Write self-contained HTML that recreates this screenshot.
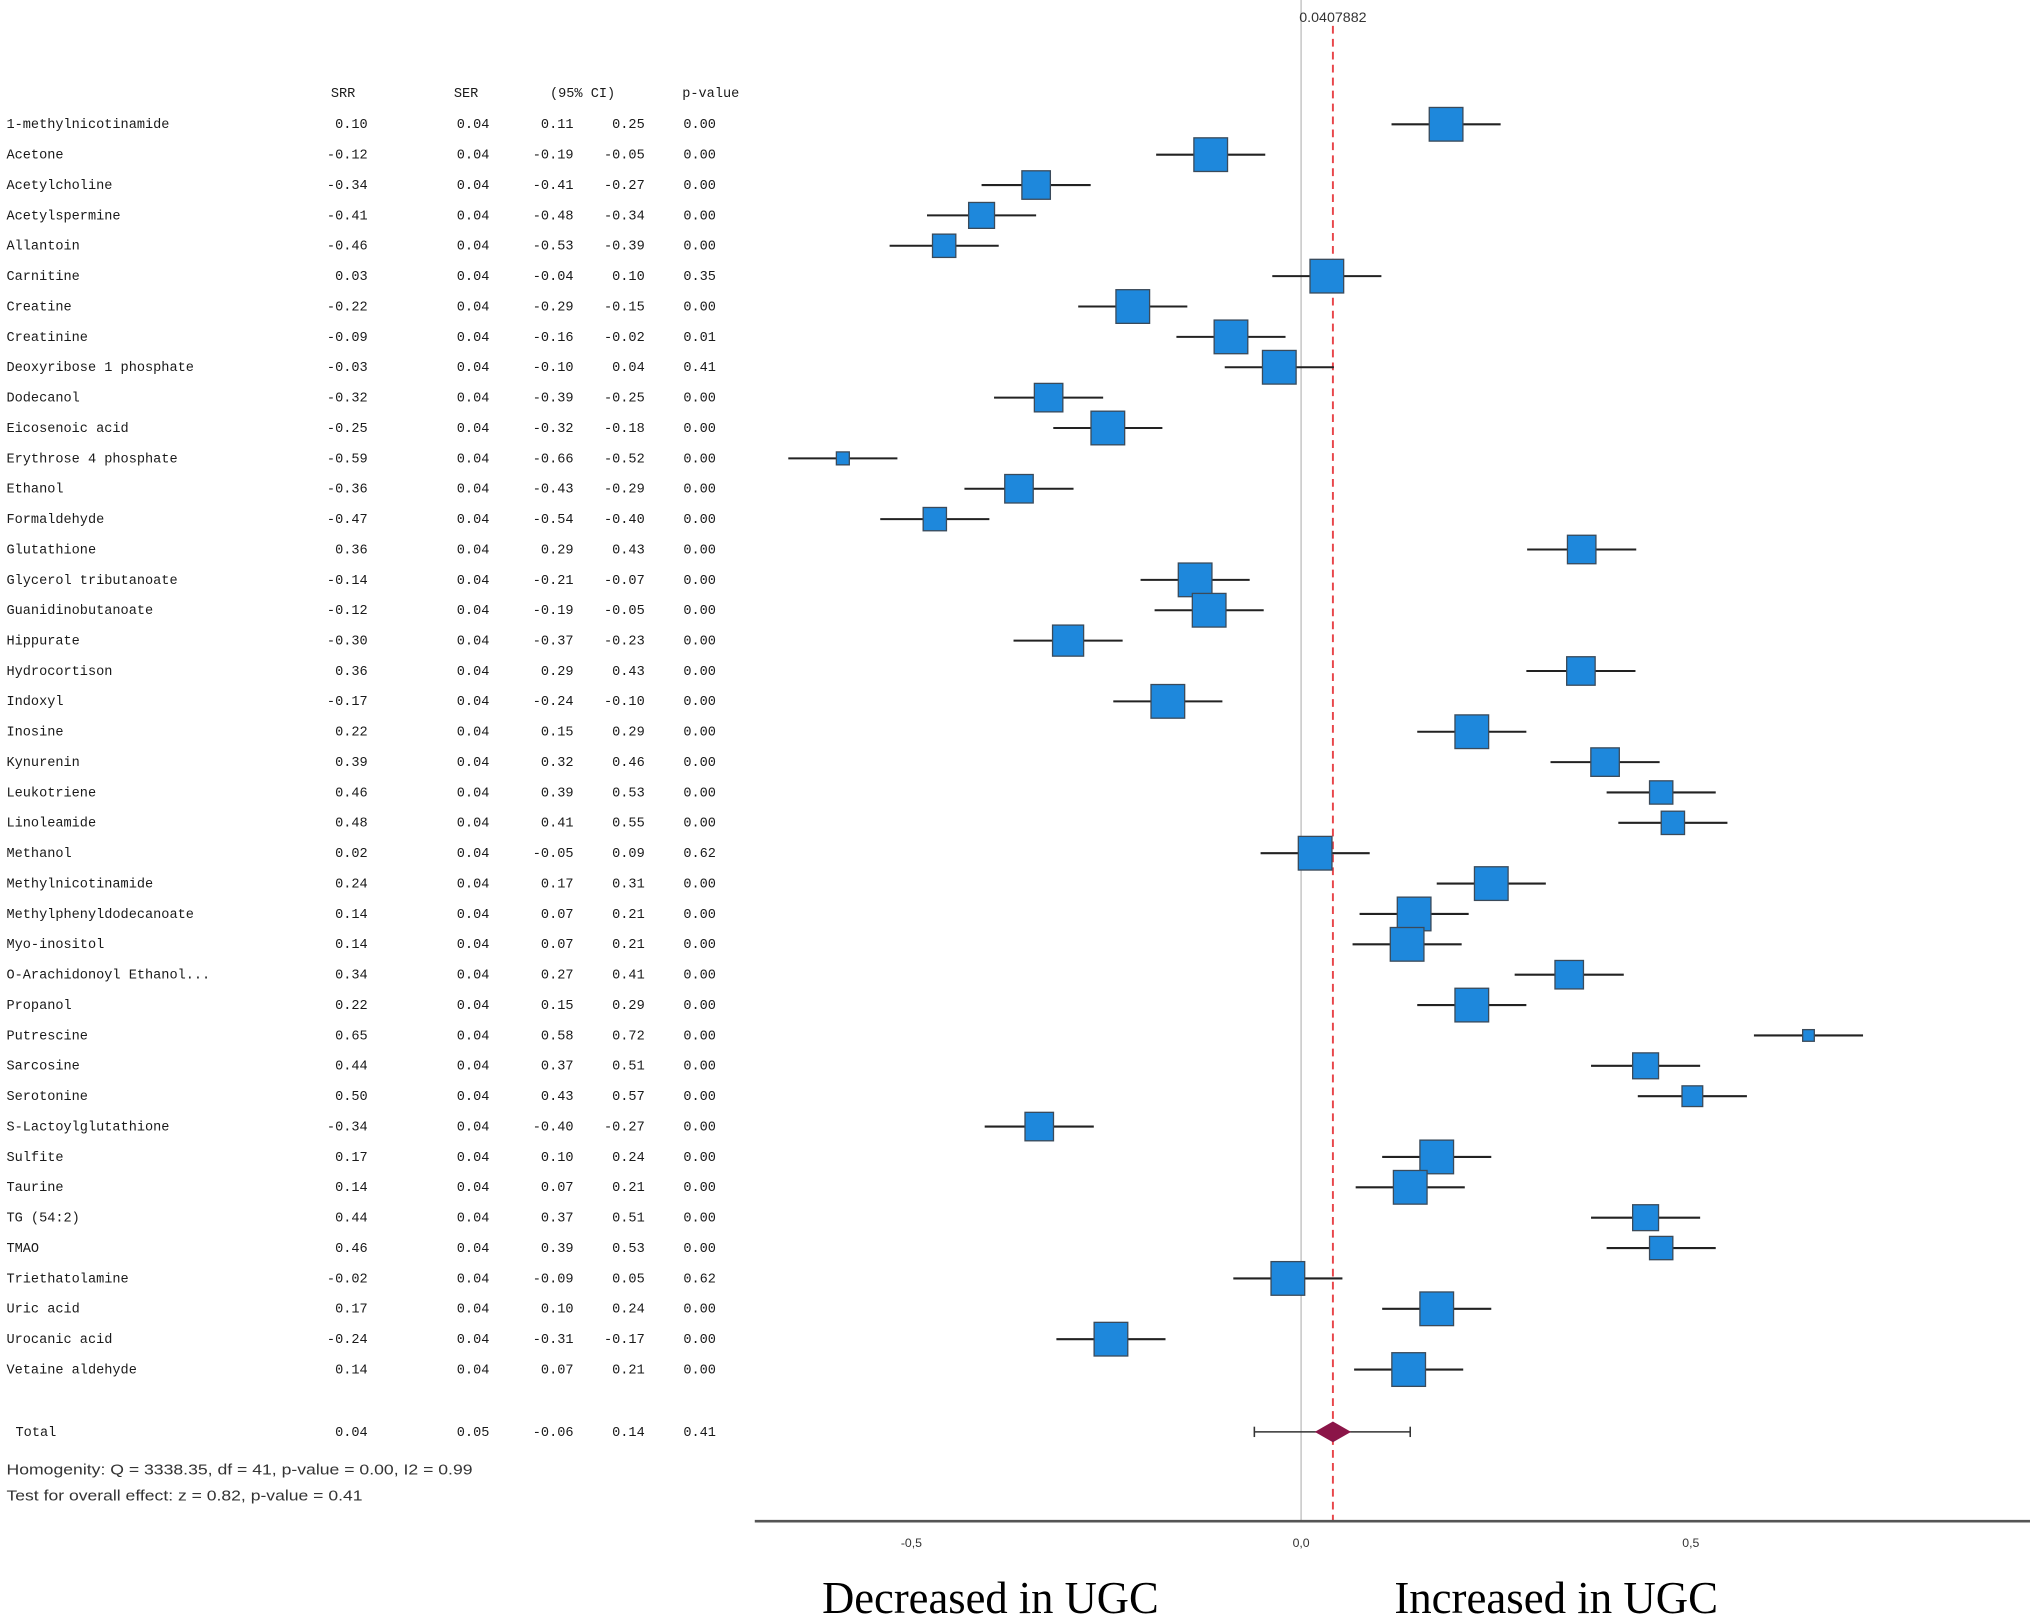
<!DOCTYPE html>
<html><head><meta charset="utf-8"><style>
html,body{margin:0;padding:0;background:#fff;}
svg{display:block;}
.mono{font-family:"Liberation Mono",monospace;font-size:10.5px;fill:#1a1a1a;font-weight:normal;}
.sans{font-family:"Liberation Sans",sans-serif;fill:#333;}
</style></head><body>
<svg id="chart" width="2030" height="1617" viewBox="0 0 1568 1249" xmlns="http://www.w3.org/2000/svg">
<g id="table"></g>
<g id="plot"></g>
</svg>
<script>
const names=["1-methylnicotinamide","Acetone","Acetylcholine","Acetylspermine","Allantoin","Carnitine","Creatine","Creatinine","Deoxyribose 1 phosphate","Dodecanol","Eicosenoic acid","Erythrose 4 phosphate","Ethanol","Formaldehyde","Glutathione","Glycerol tributanoate","Guanidinobutanoate","Hippurate","Hydrocortison","Indoxyl","Inosine","Kynurenin","Leukotriene","Linoleamide","Methanol","Methylnicotinamide","Methylphenyldodecanoate","Myo-inositol","O-Arachidonoyl Ethanol...","Propanol","Putrescine","Sarcosine","Serotonine","S-Lactoylglutathione","Sulfite","Taurine","TG (54:2)","TMAO","Triethatolamine","Uric acid","Urocanic acid","Vetaine aldehyde"];
const effects=[0.186,-0.116,-0.34,-0.41,-0.458,0.033,-0.216,-0.09,-0.028,-0.324,-0.248,-0.588,-0.362,-0.47,0.36,-0.136,-0.118,-0.299,0.359,-0.171,0.219,0.39,0.462,0.477,0.018,0.244,0.145,0.136,0.344,0.219,0.651,0.442,0.502,-0.336,0.174,0.14,0.442,0.462,-0.017,0.174,-0.244,0.138];
const halfCI=0.07;
const weights=[26,26,22,20,18,26,26,26,26,22,26,10,22,18,22,26,26,24,22,26,26,22,18,18,26,26,26,26,22,26,9,20,16,22,26,26,20,18,26,26,26,26];
const srr=["0.10","-0.12","-0.34","-0.41","-0.46","0.03","-0.22","-0.09","-0.03","-0.32","-0.25","-0.59","-0.36","-0.47","0.36","-0.14","-0.12","-0.30","0.36","-0.17","0.22","0.39","0.46","0.48","0.02","0.24","0.14","0.14","0.34","0.22","0.65","0.44","0.50","-0.34","0.17","0.14","0.44","0.46","-0.02","0.17","-0.24","0.14"];
const ciLow=["0.11","-0.19","-0.41","-0.48","-0.53","-0.04","-0.29","-0.16","-0.10","-0.39","-0.32","-0.66","-0.43","-0.54","0.29","-0.21","-0.19","-0.37","0.29","-0.24","0.15","0.32","0.39","0.41","-0.05","0.17","0.07","0.07","0.27","0.15","0.58","0.37","0.43","-0.40","0.10","0.07","0.37","0.39","-0.09","0.10","-0.31","0.07"];
const ciHigh=["0.25","-0.05","-0.27","-0.34","-0.39","0.10","-0.15","-0.02","0.04","-0.25","-0.18","-0.52","-0.29","-0.40","0.43","-0.07","-0.05","-0.23","0.43","-0.10","0.29","0.46","0.53","0.55","0.09","0.31","0.21","0.21","0.41","0.29","0.72","0.51","0.57","-0.27","0.24","0.21","0.51","0.53","0.05","0.24","-0.17","0.21"];
const pvals=["0.00","0.00","0.00","0.00","0.00","0.35","0.00","0.01","0.41","0.00","0.00","0.00","0.00","0.00","0.00","0.00","0.00","0.00","0.00","0.00","0.00","0.00","0.00","0.00","0.62","0.00","0.00","0.00","0.00","0.00","0.00","0.00","0.00","0.00","0.00","0.00","0.00","0.00","0.62","0.00","0.00","0.00"];
const totalEffect=0.0407882, totalLow=-0.06, totalHigh=0.14;
const tickValues=[-0.5,0,0.5];
const tickLabels=["-0,5","0,0","0,5"];

const NS="http://www.w3.org/2000/svg";
const X0=1005, XS=602;
function xs(v){return X0+v*XS;}
function ys(i){return 96+i*23.46;}
function mk(tag,attrs,parent,text){const e=document.createElementNS(NS,tag);for(const k in attrs)e.setAttribute(k,attrs[k]);if(text!==undefined)e.textContent=text;parent.appendChild(e);return e;}
const tbl=document.getElementById('table'), plot=document.getElementById('plot');

const heads=[["SRR",265],["SER",360],["(95% CI)",450],["p-value",549]];
heads.forEach(h=>{const t=mk('text',{x:h[1],y:75,'text-anchor':'middle',class:'mono'},tbl,h[0]);

});

names.forEach((n,i)=>{
  const y=ys(i)+3;
  const cells=[[n,5,'start'],[srr[i],284,'end'],["0.04",378,'end'],[ciLow[i],443,'end'],[ciHigh[i],498,'end'],[pvals[i],553,'end']];
  cells.forEach(c=>{const t=mk('text',{x:c[1],y:y,'text-anchor':c[2],class:'mono'},tbl,c[0]);
  
  });
});
const tot=[["Total",12,'start'],["0.04",284,'end'],["0.05",378,'end'],["-0.06",443,'end'],["0.14",498,'end'],["0.41",553,'end']];
tot.forEach(c=>{const t=mk('text',{x:c[1],y:1109,'text-anchor':c[2],class:'mono'},tbl,c[0]);

});
let f1=mk('text',{x:5,y:1139,class:'sans','font-size':11.5,'textLength':360,'lengthAdjust':'spacingAndGlyphs'},tbl,"Homogenity: Q = 3338.35, df = 41, p-value = 0.00, I2 = 0.99");


let f2=mk('text',{x:5,y:1159,class:'sans','font-size':11.5,'textLength':275,'lengthAdjust':'spacingAndGlyphs'},tbl,"Test for overall effect: z = 0.82, p-value = 0.41");



let zl=mk('line',{x1:xs(0),x2:xs(0),y1:0,y2:1175,stroke:'#c8c8c8','stroke-width':1.2},plot);


let rl=mk('line',{x1:xs(totalEffect),x2:xs(totalEffect),y1:20,y2:1175,stroke:'#e8454a','stroke-width':1.5,'stroke-dasharray':'6,4'},plot);


let rlab=mk('text',{x:xs(totalEffect),y:17,'text-anchor':'middle',class:'sans','font-size':11},plot,String(totalEffect));



effects.forEach((v,i)=>{
  const y=ys(i);
  const w=mk('line',{x1:xs(v-halfCI),x2:xs(v+halfCI),y1:y,y2:y,stroke:'#222','stroke-width':1.6},plot);
  
  
  const s=weights[i];
  const r=mk('rect',{x:xs(v)-s/2,y:y-s/2,width:s,height:s,fill:'#1e88dc',stroke:'#3a4a5a','stroke-width':1},plot);
  
  
});

const ty=1106;
let tw=mk('line',{x1:xs(totalLow),x2:xs(totalHigh),y1:ty,y2:ty,stroke:'#333','stroke-width':1.2},plot);


[totalLow,totalHigh].forEach(v=>{const c=mk('line',{x1:xs(v),x2:xs(v),y1:ty-4,y2:ty+4,stroke:'#333','stroke-width':1.2},plot);

});
const cx=xs(totalEffect);
let dm=mk('polygon',{points:`${cx-14},${ty} ${cx},${ty-8} ${cx+14},${ty} ${cx},${ty+8}`,fill:'#8b1548'},plot);



let ax=mk('line',{x1:583,x2:1568,y1:1175,y2:1175,stroke:'#555','stroke-width':2},plot);


tickValues.forEach((v,i)=>{const t=mk('text',{x:xs(v),y:1195,'text-anchor':'middle',class:'sans','font-size':9.5},plot,tickLabels[i]);

});
let d1=mk('text',{x:765,y:1246,'text-anchor':'middle','font-family':'Liberation Serif,serif','font-size':35,'textLength':260,'lengthAdjust':'spacingAndGlyphs',fill:'#000'},plot,"Decreased in UGC");


let d2=mk('text',{x:1202,y:1246,'text-anchor':'middle','font-family':'Liberation Serif,serif','font-size':35,'textLength':250,'lengthAdjust':'spacingAndGlyphs',fill:'#000'},plot,"Increased in UGC");


</script>
</body></html>
